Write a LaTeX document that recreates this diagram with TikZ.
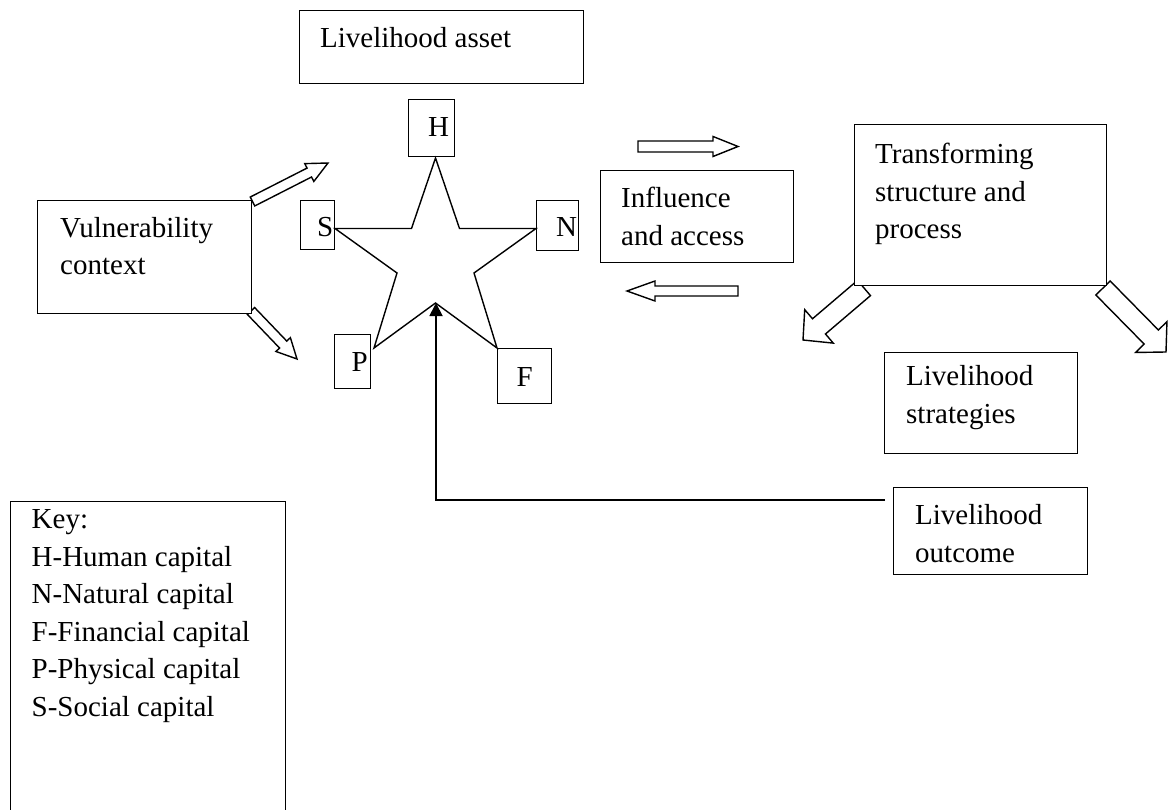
\documentclass[tikz,border=0pt]{standalone}
\usepackage{fontspec}
\setmainfont{Liberation Serif}
\usetikzlibrary{calc,arrows.meta}
\tikzset{
  box/.style={draw, line width=1.4pt, rectangle, inner sep=0pt, anchor=north west},
  lbl/.style={anchor=base west, inner sep=0pt, font=\fontsize{29}{37.5}\selectfont},
  barrow/.style={draw, fill=white, line width=1.4pt, line join=miter},
  starline/.style={draw, line width=1.4pt, line join=miter},
  conn/.style={draw, line width=1.8pt, -{Triangle[length=13pt,width=13pt]}},
}
\newcommand\blockarrow[5]{%
  \coordinate (#1-hb) at ($(#2)!#5pt!(#1)$);
  \draw[barrow] ($(#1)!#3pt!90:(#2)$) -- ($(#1-hb)!#3pt!90:(#2)$) -- ($(#1-hb)!#4pt!90:(#2)$) -- (#2)
    -- ($(#1-hb)!#4pt!-90:(#2)$) -- ($(#1-hb)!#3pt!-90:(#2)$) -- ($(#1)!#3pt!-90:(#2)$) -- cycle;}
\begin{document}
\begin{tikzpicture}[x=1pt,y=-1pt]
\useasboundingbox (0,0) rectangle (1174,810);
\clip (0,0) rectangle (1174,810);

% block arrows
\coordinate (va1t) at (252.5,201.5); \coordinate (va1h) at (328,163);
\coordinate (va2t) at (251,311);     \coordinate (va2h) at (297,359);
\coordinate (ia1t) at (638,146.5);   \coordinate (ia1h) at (738,146.5);
\coordinate (ia2t) at (738,291);     \coordinate (ia2h) at (627,291);
\coordinate (ta1t) at (864,288);     \coordinate (ta1h) at (803,340);
\coordinate (ta2t) at (1103,288);    \coordinate (ta2h) at (1166,352);
\blockarrow{va1t}{va1h}{5}{10}{21}
\blockarrow{va2t}{va2h}{5}{10}{20}
\blockarrow{ia1t}{ia1h}{5.5}{10}{25}
\blockarrow{ia2t}{ia2h}{5}{10}{28}
\blockarrow{ta1t}{ta1h}{10}{22}{21}
\blockarrow{ta2t}{ta2h}{10}{22}{21}

% boxes
\node[box, minimum width=284pt, minimum height=73pt] (asset) at (299,10) {};
\node[box, minimum width=46pt, minimum height=57pt] (hbox) at (408,99) {};
\node[box, minimum width=34pt, minimum height=49pt] (sbox) at (300,200) {};
\node[box, minimum width=42pt, minimum height=50pt] (nbox) at (536,200) {};
\node[box, minimum width=36pt, minimum height=54pt] (pbox) at (334,334) {};
\node[box, minimum width=54pt, minimum height=55pt] (fbox) at (497,348) {};
\node[box, fill=white, minimum width=213.5pt, minimum height=113pt] (vul) at (37,200) {};
\node[box, minimum width=193pt, minimum height=92pt] (infl) at (600,170) {};
\node[box, fill=white, minimum width=252pt, minimum height=161pt] (trans) at (854,124) {};
\node[box, minimum width=193pt, minimum height=101pt] (strat) at (884,352) {};
\node[box, minimum width=194pt, minimum height=87pt] (outc) at (893,487) {};
\node[box, minimum width=275pt, minimum height=340pt] (key) at (10,501) {};

% star
\draw[starline] (435.5,158) -- (459.5,228.5) -- (536,228.5) -- (474,273) -- (497,348)
  -- (435.5,303) -- (374,348) -- (397,273) -- (335,228.5) -- (411.5,228.5) -- cycle;

% connector from outcome to star centre
\coordinate (outl) at (885,500);
\coordinate (starc) at (436,303);
\draw[conn] (outl) -- (outl -| starc) -- (starc);

% texts
\node[lbl] (asset-t) at (320,48) {Livelihood asset};
\node[lbl] (h-t) at (428,136.7) {H};
\node[lbl] (s-t) at (317,236.7) {S};
\node[lbl] (n-t) at (556,236.7) {N};
\node[lbl] (p-t) at (351.5,371) {P};
\node[lbl] (f-t) at (516.5,386) {F};
\node[lbl] (vul-t1) at (60,237) {Vulnerability};
\node[lbl] (vul-t2) at (60,274.5) {context};
\node[lbl] (infl-t1) at (621,208) {Influence};
\node[lbl] (infl-t2) at (621,246) {and access};
\node[lbl] (trans-t1) at (875,163.5) {Transforming};
\node[lbl] (trans-t2) at (875,201.3) {structure and};
\node[lbl] (trans-t3) at (875,239) {process};
\node[lbl] (strat-t1) at (906,385.5) {Livelihood};
\node[lbl] (strat-t2) at (906,423) {strategies};
\node[lbl] (outc-t1) at (915,524) {Livelihood};
\node[lbl] (outc-t2) at (915,562.5) {outcome};
\node[lbl] (key-t0) at (31.5,528.3) {Key:};
\node[lbl] (key-t1) at (31.5,566) {H-Human capital};
\node[lbl] (key-t2) at (31.5,603.5) {N-Natural capital};
\node[lbl] (key-t3) at (31.5,641) {F-Financial capital};
\node[lbl] (key-t4) at (31.5,678.5) {P-Physical capital};
\node[lbl] (key-t5) at (31.5,716) {S-Social capital};
\end{tikzpicture}
\end{document}
